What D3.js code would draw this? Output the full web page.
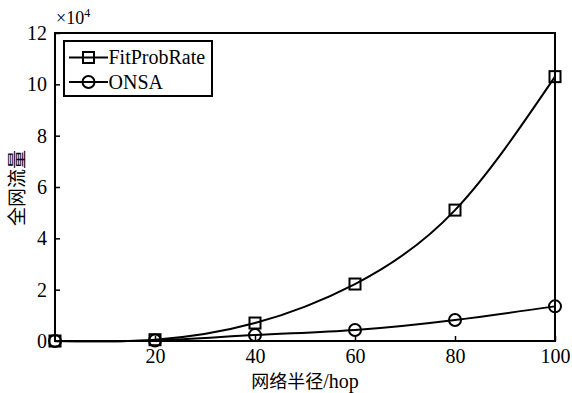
<!DOCTYPE html>
<html>
<head>
<meta charset="utf-8">
<script src="https://cdn.jsdelivr.net/npm/d3@7"></script>
<style>
  html, body { margin: 0; padding: 0; background: #fff; }
  svg { display: block; }
  text { fill: #000; }
  .serif { font-family: "Liberation Serif", "Times New Roman", serif; }
  .cjk { font-family: "Noto Sans CJK SC", sans-serif; }
</style>
</head>
<body>
<svg id="chart" width="572" height="393"></svg>
<script>
// Network radius (hop) on the x axis
const radius = [0, 20, 40, 60, 80, 100];
// Total network traffic, in units of 10^4
const fitProbRate = [0, 0.05, 0.7, 2.22, 5.1, 10.3];
const onsa = [0, 0.02, 0.23, 0.43, 0.82, 1.35];
const seriesNames = ["FitProbRate", "ONSA"];
const xTicks = [20, 40, 60, 80, 100];
const yTicks = [0, 2, 4, 6, 8, 10, 12];

const SERIF = '"Liberation Serif", "Times New Roman", serif';
const svg = d3.select("#chart");
const m = { left: 55, right: 17, top: 33, bottom: 52 };
const W = 572, H = 393;

const x = d3.scaleLinear().domain([0, 100]).range([m.left, W - m.right]);
const y = d3.scaleLinear().domain([0, 12]).range([H - m.bottom, m.top]);

// plot frame
svg.append("rect")
  .attr("x", x(0)).attr("y", y(12))
  .attr("width", x(100) - x(0)).attr("height", y(0) - y(12))
  .attr("fill", "none").attr("stroke", "#000").attr("stroke-width", 2);

// bottom axis, ticks pointing inward
const xAxis = svg.append("g")
  .attr("transform", `translate(0,${y(0)})`)
  .call(d3.axisBottom(x).tickValues(xTicks).tickSize(-5).tickPadding(9));
// left axis, ticks pointing inward
const yAxis = svg.append("g")
  .attr("transform", `translate(${x(0)},0)`)
  .call(d3.axisLeft(y).tickValues(yTicks).tickSize(-5).tickPadding(8));

[xAxis, yAxis].forEach(g => {
  g.attr("font-family", SERIF).attr("font-size", 20);
  g.select(".domain").remove();
  g.selectAll(".tick line").attr("stroke", "#000").attr("stroke-width", 1.5);
  g.selectAll(".tick text").attr("fill", "#000").attr("class", "serif");
});
xAxis.selectAll(".tick text").attr("dy", "0.66em");

// exponent label
const expo = svg.append("text").attr("class", "serif")
  .attr("x", x(0) + 1).attr("y", 24)
  .attr("font-size", 18).attr("text-anchor", "start");
expo.append("tspan").text("×10");
expo.append("tspan").attr("font-size", 12).attr("dy", -7).text("4");

// axis titles
const xt = svg.append("text")
  .attr("x", 305).attr("y", 388).attr("text-anchor", "middle");
xt.append("tspan").attr("class", "cjk").attr("font-size", 18).text("网络半径");
xt.append("tspan").attr("class", "serif").attr("font-size", 20).text("/hop");

svg.append("text").attr("class", "cjk")
  .attr("transform", `translate(24,188) rotate(-90)`)
  .attr("text-anchor", "middle").attr("font-size", 19).text("全网流量");

const line = d3.line().curve(d3.curveNatural)
  .x((d, i) => x(radius[i])).y(d => y(d));

const series = [fitProbRate, onsa];
series.forEach(vals => {
  svg.append("path").datum(vals).attr("d", line)
    .attr("fill", "none").attr("stroke", "#000").attr("stroke-width", 2);
});

function drawMarker(g, type, cx, cy) {
  if (type === 0) {
    g.append("rect").attr("x", cx - 5.5).attr("y", cy - 5.5)
      .attr("width", 11).attr("height", 11)
      .attr("fill", "none").attr("stroke", "#000").attr("stroke-width", 2);
  } else {
    g.append("circle").attr("cx", cx).attr("cy", cy).attr("r", 6)
      .attr("fill", "none").attr("stroke", "#000").attr("stroke-width", 2);
  }
}

series.forEach((vals, si) => {
  const g = svg.append("g");
  vals.forEach((v, i) => drawMarker(g, si, x(radius[i]), y(v)));
});

// legend
const lg = svg.append("g");
lg.append("rect").attr("x", 64).attr("y", 41).attr("width", 148).attr("height", 55)
  .attr("fill", "#fff").attr("stroke", "#000").attr("stroke-width", 2);
seriesNames.forEach((name, i) => {
  const cy = 57.5 + i * 24.5;
  lg.append("line").attr("x1", 69).attr("x2", 108).attr("y1", cy).attr("y2", cy)
    .attr("stroke", "#000").attr("stroke-width", 2);
  drawMarker(lg, i, 88.5, cy);
  lg.append("text").attr("class", "serif").attr("x", 108.5).attr("y", cy).attr("dy", "0.34em")
    .attr("font-size", 20).text(name);
});
</script>
</body>
</html>
